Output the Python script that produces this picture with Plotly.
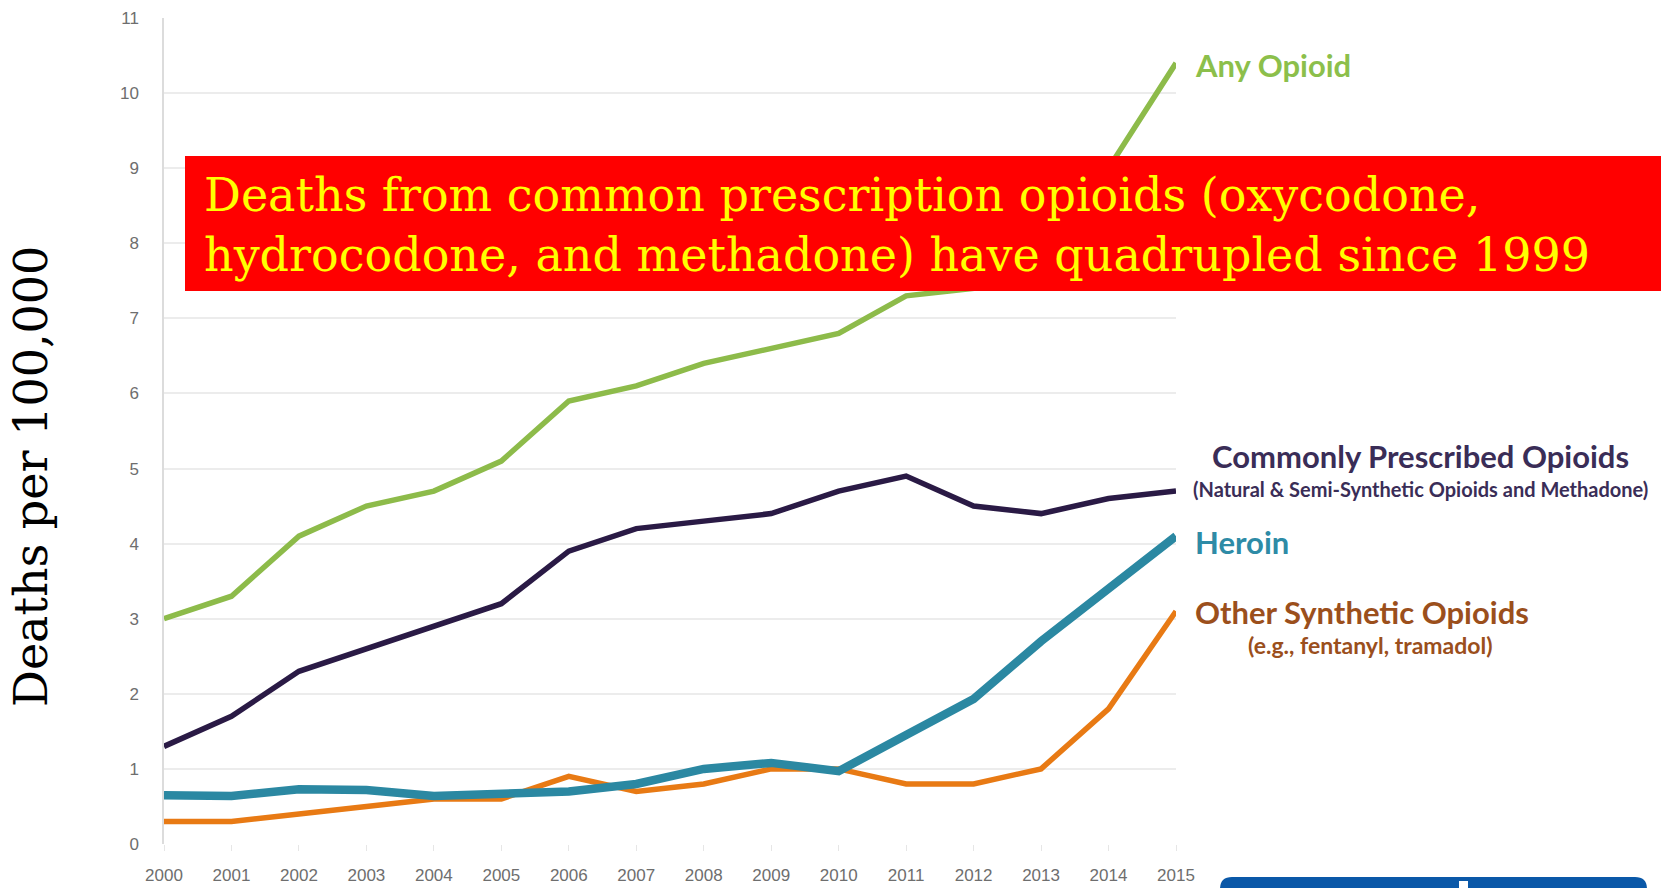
import plotly.graph_objects as go

# Opioid overdose death rates, 2000-2015
years = list(range(2000, 2016))
any_opioid = [3.0, 3.3, 4.1, 4.5, 4.7, 5.1, 5.9, 6.1, 6.4, 6.6, 6.8, 7.3, 7.4, 7.9, 9.0, 10.4]
commonly_prescribed = [1.3, 1.7, 2.3, 2.6, 2.9, 3.2, 3.9, 4.2, 4.3, 4.4, 4.7, 4.9, 4.5, 4.4, 4.6, 4.7]
heroin = [0.65, 0.64, 0.73, 0.72, 0.64, 0.68, 0.70, 0.80, 1.00, 1.08, 0.97, 1.45, 1.93, 2.70, 3.40, 4.10]
other_synthetic = [0.30, 0.30, 0.40, 0.50, 0.60, 0.60, 0.90, 0.70, 0.80, 1.00, 1.00, 0.80, 0.80, 1.00, 1.80, 3.10]

y_ticks = list(range(0, 12))

W, H = 1661, 888
L, R, T, B = 164, 1176, 18, 844


def px(x):
    return (x - L) / (R - L)


def py(y):
    return (B - y) / (B - T)


fig = go.Figure()

series = [
    ("Other Synthetic Opioids", other_synthetic, "#E87A14", 5.5),
    ("Heroin", heroin, "#2B88A2", 8.5),
    ("Commonly Prescribed Opioids", commonly_prescribed, "#2A1A45", 5.5),
    ("Any Opioid", any_opioid, "#8DBB4A", 5.5),
]
for name, vals, color, width in series:
    fig.add_trace(go.Scatter(x=years, y=vals, mode="lines", name=name,
                             line=dict(color=color, width=width)))

tick_font = dict(family="Liberation Sans", size=17, color="#6e6e6e")

fig.update_layout(
    width=W, height=H,
    margin=dict(l=L, r=W - R, t=T, b=H - B, autoexpand=False),
    paper_bgcolor="white", plot_bgcolor="white",
    showlegend=False,
    xaxis=dict(range=[2000, 2015], tickvals=years, ticktext=[str(y) for y in years],
               showgrid=False, zeroline=False, showline=False, automargin=False,
               ticks="outside", ticklen=6, tickcolor="#e6e6e6", tickfont=tick_font,
               ticklabelstandoff=10),
    yaxis=dict(range=[0, 11], tickvals=y_ticks, showgrid=True, gridcolor="#ececec",
               gridwidth=1.5, zeroline=False, showline=True, linecolor="#dcdcdc",
               linewidth=1.5, ticks="", tickfont=tick_font, ticklabelstandoff=20,
               automargin=False),
)

# Highlight banner
fig.add_shape(type="rect", xref="paper", yref="paper",
              x0=px(185), x1=px(1661), y0=py(291), y1=py(156),
              fillcolor="#FF0000", line=dict(width=0), layer="above")
fig.add_annotation(xref="paper", yref="paper", x=px(202), y=py(225),
                   xanchor="left", yanchor="middle", align="left", showarrow=False,
                   text="Deaths from common prescription opioids (oxycodone,<br>"
                        "hydrocodone, and methadone) have quadrupled since 1999",
                   font=dict(family="DejaVu Serif", size=46, color="#FFFF00"))

# Y axis title
fig.add_annotation(xref="paper", yref="paper", x=px(31), y=py(477),
                   xanchor="center", yanchor="middle", showarrow=False, textangle=-90,
                   text="Deaths per 100,000",
                   font=dict(family="DejaVu Serif", size=46, color="#000000"))

# Series labels
lab = "Lato"
fig.add_annotation(xref="paper", yref="paper", x=px(1193), y=py(65), xanchor="left",
                   yanchor="middle", showarrow=False, text="<b>Any Opioid</b>",
                   font=dict(family=lab, size=31, color="#8CBF4B"))
fig.add_annotation(xref="paper", yref="paper", x=px(1420), y=py(456), xanchor="center",
                   yanchor="middle", showarrow=False, text="<b>Commonly Prescribed Opioids</b>",
                   font=dict(family=lab, size=31, color="#3A2D57"))
fig.add_annotation(xref="paper", yref="paper", x=px(1420), y=py(489), xanchor="center",
                   yanchor="middle", showarrow=False,
                   text="<b>(Natural &amp; Semi-Synthetic Opioids and Methadone)</b>",
                   font=dict(family=lab, size=20, color="#3A2D57"))
fig.add_annotation(xref="paper", yref="paper", x=px(1193), y=py(542), xanchor="left",
                   yanchor="middle", showarrow=False, text="<b>Heroin</b>",
                   font=dict(family=lab, size=31, color="#2E8BA6"))
fig.add_annotation(xref="paper", yref="paper", x=px(1193), y=py(612), xanchor="left",
                   yanchor="middle", showarrow=False, text="<b>Other Synthetic Opioids</b>",
                   font=dict(family=lab, size=31, color="#9B4F1C"))
fig.add_annotation(xref="paper", yref="paper", x=px(1370), y=py(645), xanchor="center",
                   yanchor="middle", showarrow=False, text="<b>(e.g., fentanyl, tramadol)</b>",
                   font=dict(family=lab, size=23, color="#9B4F1C"))

# Rounded blue tab at the bottom right
x0, x1, y0, y1 = px(1220), px(1647), py(877), py(900)
rx, ry = 12 / (R - L), 12 / (B - T)
fig.add_shape(type="path", xref="paper", yref="paper",
              path=(f"M {x0},{y1} L {x0},{y0 - ry} Q {x0},{y0} {x0 + rx},{y0} "
                    f"L {x1 - rx},{y0} Q {x1},{y0} {x1},{y0 - ry} L {x1},{y1} Z"),
              fillcolor="#0A58A8", line=dict(width=0), layer="above")
fig.add_shape(type="rect", xref="paper", yref="paper",
              x0=px(1459), x1=px(1468), y0=py(888), y1=py(881),
              fillcolor="white", line=dict(width=0), layer="above")

fig.write_html("out.html")
